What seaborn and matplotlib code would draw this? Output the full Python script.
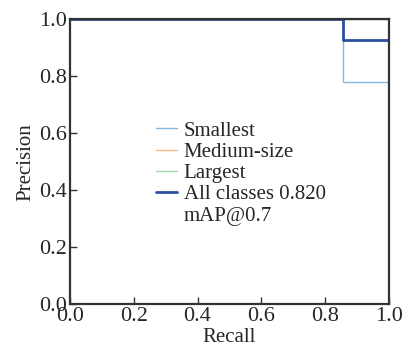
import matplotlib
matplotlib.use("Agg")
import matplotlib.pyplot as plt
from matplotlib.lines import Line2D
import seaborn as sns
import pandas as pd

# PR curve values
recall_small = [0.0, 0.856, 0.856, 1.0, 1.0]
prec_small = [1.0, 1.0, 0.78, 0.78, 0.0]
recall_medium = [0.0, 1.0, 1.0]
prec_medium = [1.0, 1.0, 0.0]
recall_large = [0.0, 1.0, 1.0]
prec_large = [1.0, 1.0, 0.0]
recall_all = [0.0, 0.856, 0.856, 1.0, 1.0]
prec_all = [1.0, 1.0, 0.927, 0.927, 0.0]

labels = ["Smallest", "Medium-size", "Largest", "All classes 0.820"]
extra_label = "mAP@0.7"
colors = ["#86b6de", "#fbb88e", "#a2d7a9", "#2c4fa3"]
widths = [1.0, 1.0, 1.0, 2.0]

sns.set_style("white")
plt.rcParams["font.family"] = ["Liberation Serif", "DejaVu Serif"]

fig, ax = plt.subplots(figsize=(4.04, 3.46), dpi=100)
fig.subplots_adjust(left=0.173, right=0.963, top=0.945, bottom=0.12)

curves = [(recall_small, prec_small), (recall_medium, prec_medium),
          (recall_large, prec_large), (recall_all, prec_all)]
for (r, p), lab, c, w in zip(curves, labels, colors, widths):
    df = pd.DataFrame({"Recall": r, "Precision": p})
    sns.lineplot(data=df, x="Recall", y="Precision", sort=False, estimator=None,
                 color=c, linewidth=w, ax=ax, legend=False)

ax.set_xlim(0, 1)
ax.set_ylim(0, 1)
ax.set_xticks([0, 0.2, 0.4, 0.6, 0.8, 1.0])
ax.set_yticks([0, 0.2, 0.4, 0.6, 0.8, 1.0])
ax.tick_params(direction="in", length=5, width=1, labelsize=16, color="#333333",
               bottom=True, left=True, pad=2)
ax.set_xlabel("Recall", fontsize=15, labelpad=1)
ax.set_ylabel("Precision", fontsize=15, labelpad=3)
for s in ax.spines.values():
    s.set_color("#333333")
    s.set_linewidth(1.6)
    s.set_zorder(5)

handles = [Line2D([], [], color=c, linewidth=w) for c, w in zip(colors, widths)]
handles.append(Line2D([], [], color="none"))
ax.legend(handles, labels + [extra_label], loc="upper left",
          bbox_to_anchor=(0.245, 0.672), frameon=False,
          fontsize=15, handlelength=1.0, handletextpad=0.3, labelspacing=0.08,
          borderaxespad=0)

fig.savefig("out.png", dpi=100)
